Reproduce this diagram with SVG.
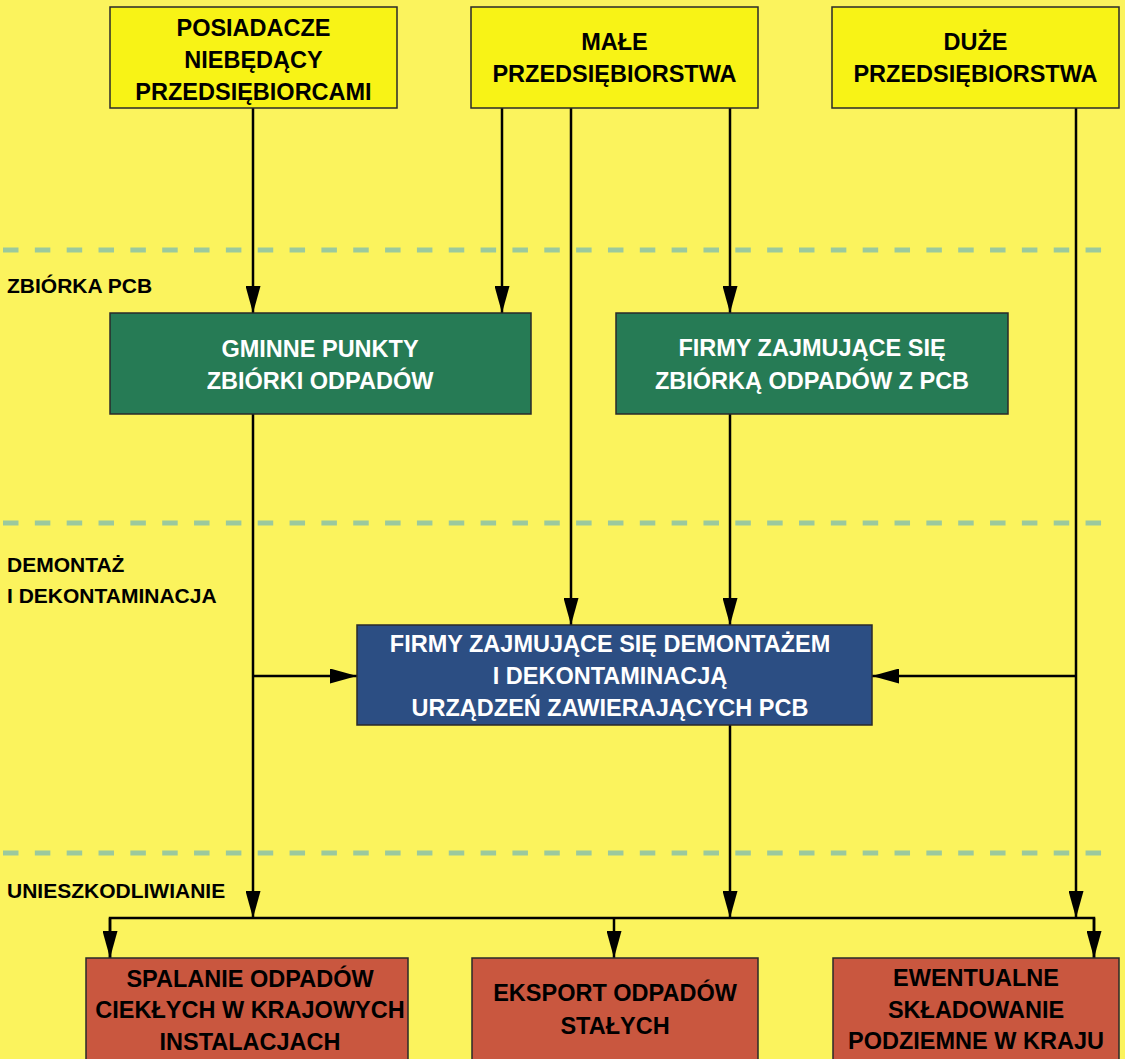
<svg xmlns="http://www.w3.org/2000/svg" width="1125" height="1059" viewBox="0 0 1125 1059">
<style>
.box{stroke:#2a2a2a;stroke-width:1.5}
.y{fill:#F8F316}
.g{fill:#267B55}
.b{fill:#2C4E83}
.r{fill:#C9573F}
.t{font-family:"Liberation Sans",Arial,sans-serif;font-weight:bold;font-size:23.5px;text-anchor:middle}
.dk{fill:#000}
.wh{fill:#fff}
.lbl{font-family:"Liberation Sans",Arial,sans-serif;font-weight:bold;font-size:21px;fill:#000}
.dash{stroke:#9BC99D;stroke-width:5;stroke-dasharray:15.5 16.34;fill:none}
.c{stroke:#000;stroke-width:2.5;fill:none}
.a{marker-end:url(#ah)}
</style>
<defs>
<marker id="ah" markerUnits="userSpaceOnUse" markerWidth="28" markerHeight="15" refX="27" refY="7.5" orient="auto">
<path d="M0,0 L27,7.5 L0,15 Z" fill="#000"/>
</marker>
</defs>
<rect width="1125" height="1059" fill="#FBF35D"/>
<g id="dividers">
<line class="dash" x1="3" y1="250" x2="1102" y2="250"/>
<line class="dash" x1="3" y1="523" x2="1102" y2="523"/>
<line class="dash" x1="3" y1="853" x2="1102" y2="853"/>
</g>
<g id="labels">
<text class="lbl" x="7" y="293">ZBIÓRKA PCB</text>
<text class="lbl" x="7" y="572">DEMONTAŻ</text>
<text class="lbl" x="7" y="603">I DEKONTAMINACJA</text>
<text class="lbl" x="7" y="898">UNIESZKODLIWIANIE</text>
</g>
<g id="connectors">
<line class="c a" x1="253" y1="108" x2="253" y2="313"/>
<line class="c a" x1="502" y1="108" x2="502" y2="313"/>
<line class="c a" x1="571" y1="108" x2="571" y2="625"/>
<line class="c a" x1="730" y1="108" x2="730" y2="313"/>
<line class="c a" x1="1076" y1="108" x2="1076" y2="918"/>
<line class="c a" x1="1076" y1="676" x2="872" y2="676"/>
<line class="c a" x1="253" y1="414" x2="253" y2="918"/>
<line class="c a" x1="253" y1="676" x2="357" y2="676"/>
<line class="c a" x1="730" y1="414" x2="730" y2="625"/>
<line class="c a" x1="730" y1="725" x2="730" y2="918"/>
<polyline class="c" points="110,958 110,918 1094,918 1094,958"/>
<line class="c a" x1="110" y1="918" x2="110" y2="958"/>
<line class="c a" x1="614" y1="918" x2="614" y2="958"/>
<line class="c a" x1="1094" y1="918" x2="1094" y2="958"/>
</g>
<g id="posiadacze">
<rect class="box y" x="110" y="7" width="287" height="101"/>
<text class="t dk" x="253.5" y="36">POSIADACZE</text>
<text class="t dk" x="253.5" y="68">NIEBĘDĄCY</text>
<text class="t dk" x="253.5" y="100">PRZEDSIĘBIORCAMI</text>
</g>
<g id="male">
<rect class="box y" x="471" y="7" width="287" height="101"/>
<text class="t dk" x="614.5" y="50">MAŁE</text>
<text class="t dk" x="614.5" y="82">PRZEDSIĘBIORSTWA</text>
</g>
<g id="duze">
<rect class="box y" x="832" y="7" width="287" height="101"/>
<text class="t dk" x="975.5" y="50">DUŻE</text>
<text class="t dk" x="975.5" y="82">PRZEDSIĘBIORSTWA</text>
</g>
<g id="gminne">
<rect class="box g" x="110" y="313" width="421" height="101"/>
<text class="t wh" x="320" y="357">GMINNE PUNKTY</text>
<text class="t wh" x="320" y="389">ZBIÓRKI ODPADÓW</text>
</g>
<g id="firmy-zbiorka">
<rect class="box g" x="616" y="313" width="392" height="101"/>
<text class="t wh" x="812" y="356">FIRMY ZAJMUJĄCE SIĘ</text>
<text class="t wh" x="812" y="389">ZBIÓRKĄ ODPADÓW Z PCB</text>
</g>
<g id="firmy-demontaz">
<rect class="box b" x="357" y="625" width="515" height="100"/>
<text class="t wh" x="610" y="652">FIRMY ZAJMUJĄCE SIĘ DEMONTAŻEM</text>
<text class="t wh" x="610" y="684">I DEKONTAMINACJĄ</text>
<text class="t wh" x="610" y="716">URZĄDZEŃ ZAWIERAJĄCYCH PCB</text>
</g>
<g id="spalanie">
<rect class="box r" x="86" y="958" width="322" height="110"/>
<text class="t dk" x="250" y="987">SPALANIE ODPADÓW</text>
<text class="t dk" x="250" y="1018">CIEKŁYCH W KRAJOWYCH</text>
<text class="t dk" x="250" y="1050">INSTALACJACH</text>
</g>
<g id="eksport">
<rect class="box r" x="472" y="958" width="286" height="110"/>
<text class="t dk" x="615" y="1001">EKSPORT ODPADÓW</text>
<text class="t dk" x="615" y="1034">STAŁYCH</text>
</g>
<g id="skladowanie">
<rect class="box r" x="833" y="958" width="286" height="110"/>
<text class="t dk" x="976" y="986">EWENTUALNE</text>
<text class="t dk" x="976" y="1018">SKŁADOWANIE</text>
<text class="t dk" x="976" y="1049">PODZIEMNE W KRAJU</text>
</g>
</svg>
